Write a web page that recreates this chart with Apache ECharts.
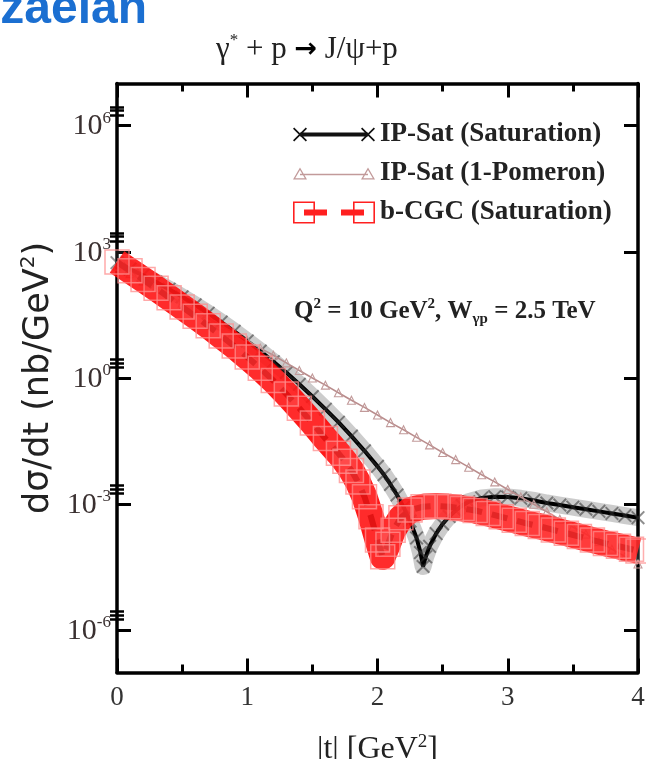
<!DOCTYPE html>
<html>
<head>
<meta charset="utf-8">
<script src="https://cdn.jsdelivr.net/npm/echarts@6/dist/echarts.min.js"></script>
<style>
  html, body { margin: 0; padding: 0; background: #fff; }
  #chart { width: 646px; height: 759px; }
</style>
</head>
<body>
<div id="chart"></div>
<script>
// dσ/dt (nb/GeV^2) versus |t| (GeV^2) for exclusive J/ψ production,
// Q^2 = 10 GeV^2, W = 2.5 TeV.

// IP-Sat (Saturation)
const tIpSatSat = [0, 0.1, 0.2, 0.3, 0.4, 0.5, 0.6, 0.7, 0.8, 0.9, 1.0, 1.1, 1.2, 1.3, 1.4, 1.5, 1.6, 1.7, 1.8, 1.9,
  2.0, 2.05, 2.1, 2.15, 2.2, 2.25, 2.3, 2.33, 2.35, 2.37, 2.4, 2.45, 2.5, 2.55, 2.6, 2.65, 2.7,
  2.8, 2.9, 3.0, 3.1, 3.2, 3.3, 3.4, 3.5, 3.6, 3.7, 3.8, 3.9, 4.0];
const dsdtIpSatSat = [550, 389, 275, 191, 129, 85.1, 55.0, 34.7, 21.4, 12.9, 7.59, 4.37, 2.45, 1.35, 0.708, 0.363, 0.182, 0.0891, 0.0417, 0.0186,
  7.94e-3, 5.01e-3, 2.95e-3, 1.66e-3, 8.51e-4, 3.98e-4, 1.58e-4, 7.08e-5, 3.31e-5, 5.62e-5, 1.0e-4, 2.0e-4, 3.39e-4, 5.13e-4, 7.08e-4, 9.33e-4, 1.15e-3,
  1.41e-3, 1.51e-3, 1.48e-3, 1.38e-3, 1.23e-3, 1.07e-3, 9.55e-4, 8.51e-4, 7.59e-4, 6.76e-4, 6.03e-4, 5.37e-4, 4.79e-4];

// IP-Sat (1-Pomeron)
const tIpSatPom = [0, 0.1, 0.2, 0.3, 0.4, 0.5, 0.6, 0.7, 0.8, 0.9, 1.0, 1.1, 1.2, 1.3, 1.4, 1.5, 1.6, 1.7, 1.8, 1.9,
  2.0, 2.1, 2.2, 2.3, 2.4, 2.5, 2.6, 2.7, 2.8, 2.9, 3.0, 3.1, 3.2, 3.3, 3.4, 3.5, 3.6, 3.7, 3.8, 3.9, 4.0];
const dsdtIpSatPom = [457, 302, 204, 135, 89.1, 60.3, 39.8, 26.3, 17.4, 11.7, 7.76, 5.13, 3.47, 2.29, 1.51, 1.00, 0.676, 0.447, 0.295, 0.200,
  0.132, 0.0871, 0.0589, 0.0389, 0.0257, 0.0170, 0.0115, 7.59e-3, 5.01e-3, 3.39e-3, 2.24e-3, 1.48e-3, 1.00e-3, 6.61e-4, 4.37e-4, 2.88e-4,
  1.95e-4, 1.29e-4, 8.51e-5, 5.75e-5, 3.80e-5];

// b-CGC (Saturation)
const tBcgc = [0, 0.1, 0.2, 0.3, 0.4, 0.5, 0.6, 0.7, 0.8, 0.9, 1.0, 1.1, 1.2, 1.3, 1.4, 1.5, 1.6, 1.7,
  1.75, 1.8, 1.85, 1.9, 1.95, 2.0, 2.04, 2.08, 2.12, 2.18, 2.25,
  2.35, 2.45, 2.55, 2.65, 2.75, 2.85, 2.95, 3.05, 3.15, 3.25, 3.35, 3.45, 3.55, 3.65, 3.75, 3.85, 3.95, 4.0];
const dsdtBcgc = [575, 355, 219, 135, 81.3, 49.0, 29.5, 17.4, 10.0, 5.75, 3.16, 1.70, 0.871, 0.417, 0.191, 0.0851, 0.0363, 0.0162,
  0.0105, 6.31e-3, 3.39e-3, 1.51e-3, 5.01e-4, 1.41e-4, 5.62e-5, 1.12e-4, 2.40e-4, 4.79e-4, 7.24e-4,
  8.71e-4, 9.12e-4, 8.71e-4, 7.94e-4, 7.08e-4, 6.03e-4, 5.01e-4, 4.17e-4, 3.47e-4, 2.95e-4, 2.45e-4, 2.04e-4, 1.70e-4,
  1.41e-4, 1.17e-4, 1.00e-4, 8.51e-5, 7.76e-5];

const seriesNames = ['IP-Sat (Saturation)', 'IP-Sat (1-Pomeron)', 'b-CGC (Saturation)'];

// axis ticks
const xTickLabels = [0, 1, 2, 3, 4];
const yLabelValues = [1e-6, 1e-3, 1, 1e3, 1e6];
const yMinorTickValues = [1.8e-6, 2.3e-6, 2.8e-6, 1.8e-3, 2.3e-3, 2.8e-3, 1.8, 2.3, 2.8,
  1.8e3, 2.3e3, 2.8e3, 1.8e6, 2.3e6, 2.8e6];

const pairs = (xs, ys) => xs.map((x, i) => [x, ys[i]]);

const SERIF = '"Liberation Serif", "DejaVu Serif", serif';
const crossPath = 'path://M1,0L5,4L9,0L10,1L6,5L10,9L9,10L5,6L1,10L0,9L4,5L0,1Z';

// Legend keys: line with a marker at each end (82 px wide)
const iconSat = 'path://M7,5L75,5L75,9L7,9Z' +
  'M0,1.2L1.2,0L7,5.8L12.8,0L14,1.2L8.2,7L14,12.8L12.8,14L7,8.2L1.2,14L0,12.8L5.8,7Z' +
  'M68,1.2L69.2,0L75,5.8L80.8,0L82,1.2L76.2,7L82,12.8L80.8,14L75,8.2L69.2,14L68,12.8L73.8,7Z';
const iconPom = 'path://M7,6.3L75,6.3L75,7.7L7,7.7Z' +
  'M0,12L7,0L14,12ZM2.2,10.8L11.8,10.8L7,2.5Z' +
  'M68,12L75,0L82,12ZM70.2,10.8L79.8,10.8L75,2.5Z';
const iconCgc = 'path://M0,0L22,0L22,22L0,22ZM1.6,1.6L1.6,20.4L20.4,20.4L20.4,1.6Z' +
  'M60,0L82,0L82,22L60,22ZM61.6,1.6L61.6,20.4L80.4,20.4L80.4,1.6Z' +
  'M11,8L34,8L34,14L11,14ZM48,8L71,8L71,14L48,14Z';

const axisLineStyle = { color: '#000', width: 3.5 };

const xAxisCommon = {
  type: 'value',
  min: xTickLabels[0],
  max: xTickLabels[xTickLabels.length - 1],
  interval: 1,
  splitLine: { show: false },
  axisLine: { show: true, onZero: false, lineStyle: axisLineStyle },
  axisTick: { show: true, inside: true, length: 14, lineStyle: { color: '#000', width: 3 } },
  minorTick: { show: true, splitNumber: 2, length: 8, lineStyle: { color: '#000', width: 3 } }
};

const yMajorCommon = {
  type: 'log',
  logBase: 10,
  min: 1e-7,
  max: 1e7,
  splitLine: { show: false },
  axisLine: { show: true, onZero: false, lineStyle: axisLineStyle },
  axisTick: { show: true, inside: true, length: 14, customValues: yLabelValues, lineStyle: { color: '#000', width: 3 } }
};

const yMinorCommon = {
  type: 'log',
  logBase: 10,
  min: 1e-7,
  max: 1e7,
  splitLine: { show: false },
  axisLine: { show: false },
  axisLabel: { show: false },
  axisTick: { show: true, inside: true, length: 7, customValues: yMinorTickValues, lineStyle: { color: '#000', width: 2.5 } }
};

const chart = echarts.init(document.getElementById('chart'), null, { renderer: 'canvas' });

chart.setOption({
  animation: false,
  backgroundColor: '#fff',
  title: {
    text: '{g|γ}{s|*}{n| + p }{a|→}{n| J/ψ+p}',
    left: 211,
    top: 27,
    textStyle: {
      fontWeight: 'normal',
      rich: {
        g: { fontFamily: SERIF, fontSize: 31, fontWeight: 'normal', color: '#222' },
        s: { fontFamily: SERIF, fontSize: 17, fontWeight: 'normal', color: '#222', verticalAlign: 'top', lineHeight: 35 },
        n: { fontFamily: SERIF, fontSize: 31, fontWeight: 'normal', color: '#222' },
        a: { fontFamily: 'DejaVu Sans', fontSize: 27, fontWeight: 'bold', color: '#000' }
      }
    }
  },
  legend: {
    orient: 'vertical',
    left: 288,
    top: 116,
    itemWidth: 82,
    itemHeight: 22,
    itemGap: 12,
    symbolKeepAspect: true,
    data: [
      { name: seriesNames[0], icon: iconSat, itemStyle: { color: '#111', borderWidth: 0 } },
      { name: seriesNames[1], icon: iconPom, itemStyle: { color: '#c29a9a', borderWidth: 0 } },
      { name: seriesNames[2], icon: iconCgc, itemStyle: { color: '#ff2020', borderWidth: 0 } }
    ],
    textStyle: { fontFamily: SERIF, fontSize: 27, fontWeight: 'bold', color: '#222' },
    selectedMode: false
  },
  graphic: [
    {
      type: 'text',
      x: -61,
      y: -14,
      style: { text: 'Rezaeian', font: 'bold 48px "Liberation Sans", Arial, sans-serif', fill: '#1b6fd1' }
    },
    {
      type: 'text',
      x: 294,
      y: 297,
      style: {
        text: 'Q{sp|2} = 10 GeV{sp|2}, W{sb|γp} = 2.5 TeV',
        font: 'bold 25px "Liberation Serif", serif',
        fill: '#222',
        rich: {
          sp: { fontFamily: SERIF, fontSize: 15, fontWeight: 'bold', fill: '#222', verticalAlign: 'top', lineHeight: 30 },
          sb: { fontFamily: SERIF, fontSize: 15, fontWeight: 'bold', fill: '#222', verticalAlign: 'bottom', lineHeight: 30 }
        }
      }
    }
  ],
  grid: { left: 117, right: 8, top: 83.5, bottom: 86.5, containLabel: false, outerBoundsMode: 'none' },
  xAxis: [
    Object.assign({}, xAxisCommon, {
      position: 'bottom',
      axisLabel: { show: true, margin: 12, fontFamily: SERIF, fontSize: 27, color: '#333' },
      name: '|t| [GeV{s|2}]',
      nameLocation: 'middle',
      nameGap: 60,
      nameTextStyle: {
        fontFamily: SERIF, fontSize: 32, color: '#222',
        rich: { s: { fontFamily: SERIF, fontSize: 19, color: '#222', verticalAlign: 'top', lineHeight: 34 } }
      }
    }),
    Object.assign({}, xAxisCommon, { position: 'top', axisLabel: { show: false } })
  ],
  yAxis: [
    Object.assign({}, yMajorCommon, {
      position: 'left',
      axisLabel: {
        show: true,
        margin: 6,
        customValues: yLabelValues,
        formatter: v => '{b|10}{e|' + Math.round(Math.log10(v)) + '}',
        rich: {
          b: { fontFamily: SERIF, fontSize: 30, color: '#3a3030', lineHeight: 32, verticalAlign: 'bottom' },
          e: { fontFamily: SERIF, fontSize: 17, color: '#3a3030', lineHeight: 32, verticalAlign: 'top' }
        }
      },
      name: 'dσ/dt (nb/GeV{s|2})',
      nameLocation: 'middle',
      nameRotate: 90,
      nameGap: 32,
      nameTextStyle: {
        fontFamily: 'DejaVu Sans', fontSize: 35, color: '#222',
        rich: { s: { fontFamily: 'DejaVu Sans', fontSize: 20, color: '#222', verticalAlign: 'top', lineHeight: 40 } }
      }
    }),
    Object.assign({}, yMinorCommon, { position: 'left' }),
    Object.assign({}, yMajorCommon, { position: 'right', axisLabel: { show: false } }),
    Object.assign({}, yMinorCommon, { position: 'right' })
  ],
  series: [
    {
      // grey halo of the densely packed markers along the IP-Sat (Saturation) curve
      name: 'ipsat-sat-halo',
      type: 'line',
      z: 1,
      data: pairs(tIpSatSat, dsdtIpSatSat),
      symbol: 'none',
      lineStyle: { color: 'rgba(0,0,0,0.2)', width: 17, join: 'round', cap: 'butt' },
      emphasis: { disabled: true },
      silent: true
    },
    {
      name: seriesNames[0],
      type: 'line',
      z: 2,
      data: pairs(tIpSatSat, dsdtIpSatSat),
      symbol: crossPath,
      symbolSize: 14,
      lineStyle: { color: '#000', width: 4 },
      itemStyle: { color: 'rgba(50,50,50,0.55)' },
      emphasis: { disabled: true }
    },
    {
      name: seriesNames[1],
      type: 'line',
      z: 3,
      data: pairs(tIpSatPom, dsdtIpSatPom),
      symbol: 'triangle',
      symbolSize: 8,
      lineStyle: { color: '#b98c8c', width: 1.6 },
      itemStyle: { color: 'rgba(255,255,255,0)', borderColor: '#c29a9a', borderWidth: 1.1 },
      emphasis: { disabled: true }
    },
    {
      // solid red band formed by the overlapping b-CGC square markers
      name: 'bcgc-band',
      type: 'line',
      z: 4,
      data: pairs(tBcgc, dsdtBcgc),
      symbol: 'none',
      lineStyle: { color: 'rgba(255,0,0,0.9)', width: 26, join: 'round', cap: 'butt' },
      emphasis: { disabled: true },
      silent: true
    },
    {
      name: seriesNames[2],
      type: 'line',
      z: 5,
      data: pairs(tBcgc, dsdtBcgc),
      symbol: 'rect',
      symbolSize: 24,
      lineStyle: { color: '#e00000', width: 6, type: [16, 10] },
      itemStyle: { color: 'rgba(255,255,255,0.08)', borderColor: 'rgba(255,140,140,0.75)', borderWidth: 1.5 },
      emphasis: { disabled: true }
    }
  ]
});
</script>
</body>
</html>
